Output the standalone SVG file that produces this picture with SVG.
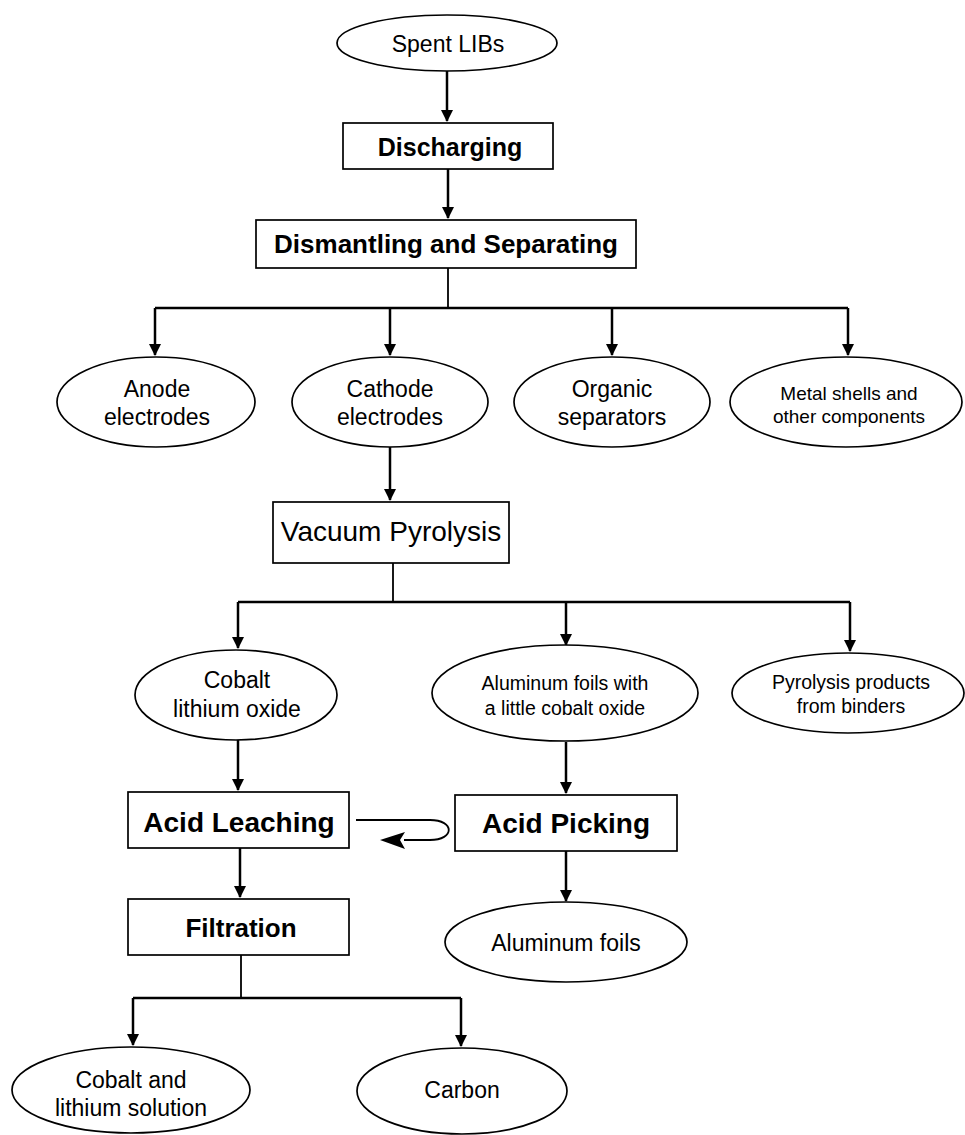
<svg xmlns="http://www.w3.org/2000/svg" width="965" height="1135" viewBox="0 0 965 1135">
<defs>
<marker id="ah" markerWidth="12" markerHeight="14" refX="11" refY="7" orient="auto" markerUnits="userSpaceOnUse">
<path d="M0,1 L12,7 L0,13 Z" fill="#000"/>
</marker>
<style>
.n{fill:#fff;stroke:#000;stroke-width:1.7}
.t{font-family:"Liberation Sans",Arial,sans-serif;fill:#000;text-anchor:middle}
.b{font-weight:bold}
.e{font-size:23px}
.s{font-size:19.5px}
.c{fill:none;stroke:#000;stroke-width:2.5}
.c1{fill:none;stroke:#000;stroke-width:1.8}
</style>
</defs>
<rect width="965" height="1135" fill="#fff"/>
<g id="connectors">
<path class="c" d="M447,71 V121" marker-end="url(#ah)"/>
<path class="c" d="M448,169 V218" marker-end="url(#ah)"/>
<path class="c1" d="M448,268 V308"/>
<path class="c" d="M155,308 H848"/>
<path class="c" d="M155,308 V355" marker-end="url(#ah)"/>
<path class="c" d="M390,308 V355" marker-end="url(#ah)"/>
<path class="c" d="M612,308 V355" marker-end="url(#ah)"/>
<path class="c" d="M848,308 V355" marker-end="url(#ah)"/>
<path class="c" d="M390,447 V500" marker-end="url(#ah)"/>
<path class="c1" d="M393,563 V602"/>
<path class="c" d="M238,602 H850"/>
<path class="c" d="M238,602 V648" marker-end="url(#ah)"/>
<path class="c" d="M566,602 V645" marker-end="url(#ah)"/>
<path class="c" d="M850,602 V651" marker-end="url(#ah)"/>
<path class="c" d="M238,740 V790" marker-end="url(#ah)"/>
<path class="c" d="M566,742 V793" marker-end="url(#ah)"/>
<path class="c" d="M240,848 V897" marker-end="url(#ah)"/>
<path class="c" d="M566,851 V901" marker-end="url(#ah)"/>
<path class="c1" d="M356,820 H430 C455,820 455,840 430,840 H404"/>
<path d="M380,840 L405,832 L400,840 L405,849 Z" fill="#000"/>
<path class="c1" d="M241,955 V998"/>
<path class="c" d="M133,998 H461"/>
<path class="c" d="M133,998 V1045" marker-end="url(#ah)"/>
<path class="c" d="M461,998 V1046" marker-end="url(#ah)"/>
</g>
<g id="spent">
<ellipse class="n" cx="447" cy="43" rx="110" ry="28"/>
<text class="t" x="448" y="52" font-size="23">Spent LIBs</text>
</g>
<g id="discharging">
<rect class="n" x="343" y="123" width="210" height="46"/>
<text class="t b" x="450" y="156" font-size="25">Discharging</text>
</g>
<g id="dismantling">
<rect class="n" x="256" y="220" width="380" height="48"/>
<text class="t b" x="446" y="253" font-size="26">Dismantling and Separating</text>
</g>
<g id="anode">
<ellipse class="n" cx="156" cy="402" rx="99" ry="45"/>
<text class="t e" x="157" y="397">Anode</text>
<text class="t e" x="157" y="425">electrodes</text>
</g>
<g id="cathode">
<ellipse class="n" cx="390" cy="402" rx="98" ry="45"/>
<text class="t e" x="390" y="397">Cathode</text>
<text class="t e" x="390" y="425">electrodes</text>
</g>
<g id="organic">
<ellipse class="n" cx="612" cy="402" rx="98" ry="45"/>
<text class="t e" x="612" y="397">Organic</text>
<text class="t e" x="612" y="425">separators</text>
</g>
<g id="metal">
<ellipse class="n" cx="846" cy="402" rx="116" ry="45"/>
<text class="t" x="849" y="400" font-size="19">Metal shells and</text>
<text class="t" x="849" y="423" font-size="19">other components</text>
</g>
<g id="vacuum">
<rect class="n" x="273" y="502" width="236" height="61"/>
<text class="t" x="391" y="541" font-size="28">Vacuum Pyrolysis</text>
</g>
<g id="cobaltoxide">
<ellipse class="n" cx="236" cy="695" rx="101" ry="45"/>
<text class="t e" x="237" y="688">Cobalt</text>
<text class="t e" x="237" y="717">lithium oxide</text>
</g>
<g id="alcobalt">
<ellipse class="n" cx="565" cy="693" rx="133" ry="48"/>
<text class="t s" x="565" y="690">Aluminum foils with</text>
<text class="t s" x="565" y="715">a little cobalt oxide</text>
</g>
<g id="pyroproducts">
<ellipse class="n" cx="848" cy="693" rx="116" ry="40"/>
<text class="t s" x="851" y="689">Pyrolysis products</text>
<text class="t s" x="851" y="713">from binders</text>
</g>
<g id="leaching">
<rect class="n" x="128" y="792" width="221" height="56"/>
<text class="t b" x="239" y="832" font-size="28">Acid Leaching</text>
</g>
<g id="picking">
<rect class="n" x="455" y="795" width="222" height="56"/>
<text class="t b" x="566" y="833" font-size="28">Acid Picking</text>
</g>
<g id="filtration">
<rect class="n" x="128" y="899" width="221" height="56"/>
<text class="t b" x="241" y="937" font-size="26">Filtration</text>
</g>
<g id="alfoils">
<ellipse class="n" cx="566" cy="942" rx="121" ry="40"/>
<text class="t e" x="566" y="951">Aluminum foils</text>
</g>
<g id="solution">
<ellipse class="n" cx="131" cy="1090" rx="119" ry="43"/>
<text class="t e" x="131" y="1088">Cobalt and</text>
<text class="t e" x="131" y="1116">lithium solution</text>
</g>
<g id="carbon">
<ellipse class="n" cx="462" cy="1091" rx="105" ry="43"/>
<text class="t e" x="462" y="1098">Carbon</text>
</g>
</svg>
